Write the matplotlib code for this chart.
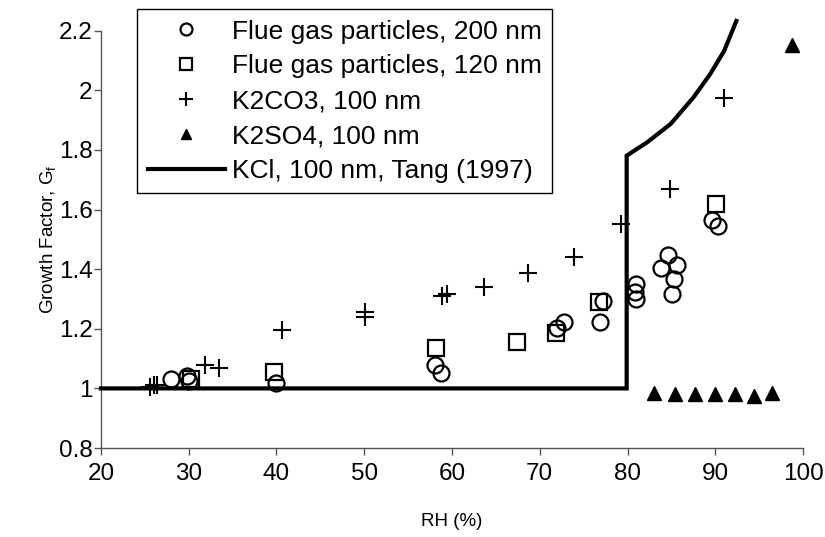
import matplotlib
matplotlib.use("Agg")
from matplotlib import pyplot as plt

plt.rcParams['font.family'] = ['Liberation Sans', 'DejaVu Sans']

# Flue gas particles, 200 nm
rh_200 = [28.0, 29.8, 30.0, 40.0, 58.1, 58.7, 72.0, 72.8, 76.9, 77.2, 81.0, 80.9, 81.0,
          84.6, 83.8, 85.6, 85.3, 85.1, 89.6, 90.3]
gf_200 = [1.03, 1.04, 1.025, 1.017, 1.077, 1.051, 1.203, 1.222, 1.222, 1.292, 1.35, 1.325, 1.30,
          1.446, 1.404, 1.414, 1.367, 1.317, 1.565, 1.546]

# Flue gas particles, 120 nm
rh_120 = [30.3, 39.7, 58.2, 67.4, 71.8, 76.7, 90.1]
gf_120 = [1.03, 1.055, 1.135, 1.157, 1.185, 1.289, 1.62]

# K2CO3, 100 nm
rh_k2co3 = [25.6, 26.0, 26.4, 31.9, 33.4, 40.6, 50.1, 50.1, 58.85, 59.4, 63.7, 68.7, 73.9,
            79.2, 84.8, 91.0]
gf_k2co3 = [1.005, 1.01, 1.01, 1.077, 1.069, 1.197, 1.255, 1.24, 1.31, 1.317, 1.34, 1.386, 1.442,
            1.553, 1.669, 1.976]

# K2SO4, 100 nm
rh_k2so4 = [83.05, 85.4, 87.7, 90.0, 92.3, 94.4, 96.5, 98.7]
gf_k2so4 = [0.984, 0.982, 0.98, 0.98, 0.98, 0.975, 0.985, 2.151]

# KCl, 100 nm, Tang (1997)
rh_kcl = [20, 79.9, 79.9, 82.2, 84.9, 87.5, 89.4, 91.0, 92.4]
gf_kcl = [1.0, 1.0, 1.781, 1.825, 1.887, 1.976, 2.054, 2.132, 2.233]

fig = plt.figure(figsize=(8.25, 5.37), dpi=100)
ax = fig.add_axes([0.1224, 0.1657, 0.851, 0.777])

ax.plot(rh_200, gf_200, linestyle='none', marker='o', ms=11.5, mfc='none', mec='black', mew=1.6,
        label="Flue gas particles, 200 nm", zorder=4)
ax.plot(rh_120, gf_120, linestyle='none', marker='s', ms=11.5, mfc='none', mec='black', mew=1.6,
        label="Flue gas particles, 120 nm", zorder=4)
ax.plot(rh_k2co3, gf_k2co3, linestyle='none', marker='+', ms=13, mec='black', mew=1.5,
        label="K2CO3, 100 nm", zorder=4)
ax.plot(rh_k2so4, gf_k2so4, linestyle='none', marker='^', ms=10, mfc='black', mec='black',
        label="K2SO4, 100 nm", zorder=4, clip_on=False)
ax.plot(rh_kcl, gf_kcl, color='black', lw=3, label="KCl, 100 nm, Tang (1997)",
        solid_joinstyle='miter', clip_on=False, zorder=3)

ax.set_xlim(20, 100)
ax.set_ylim(0.8, 2.2)
ax.set_xticks(range(20, 101, 10))
ax.set_yticks([0.8, 1.0, 1.2, 1.4, 1.6, 1.8, 2.0, 2.2])
ax.set_yticklabels(['0.8', '1', '1.2', '1.4', '1.6', '1.8', '2', '2.2'])

for s in ['top', 'right']:
    ax.spines[s].set_visible(False)
for s in ['left', 'bottom']:
    ax.spines[s].set_color('#555555')
    ax.spines[s].set_linewidth(1)
ax.tick_params(direction='out', length=5, width=1, color='#555555', labelsize=17.5)
ax.tick_params(axis='x', pad=6)
ax.tick_params(axis='y', pad=1)

ax.set_xlabel("RH (%)", fontsize=13.5, labelpad=20)
ax.set_ylabel(r"Growth Factor, G$_\mathregular{f}$", fontsize=13.5, labelpad=0)

leg = ax.legend(loc='upper left', bbox_to_anchor=(137 / 825, 1 - 9 / 537),
                bbox_transform=fig.transFigure, fontsize=19, frameon=True, fancybox=False,
                handlelength=2.95, handletextpad=0.25, labelspacing=0.41, borderpad=0.4,
                borderaxespad=0, markerscale=0.75)
leg.get_frame().set_edgecolor('black')
leg.get_frame().set_linewidth(1)
leg.get_frame().set_alpha(1)

fig.savefig("out.png", dpi=100)
